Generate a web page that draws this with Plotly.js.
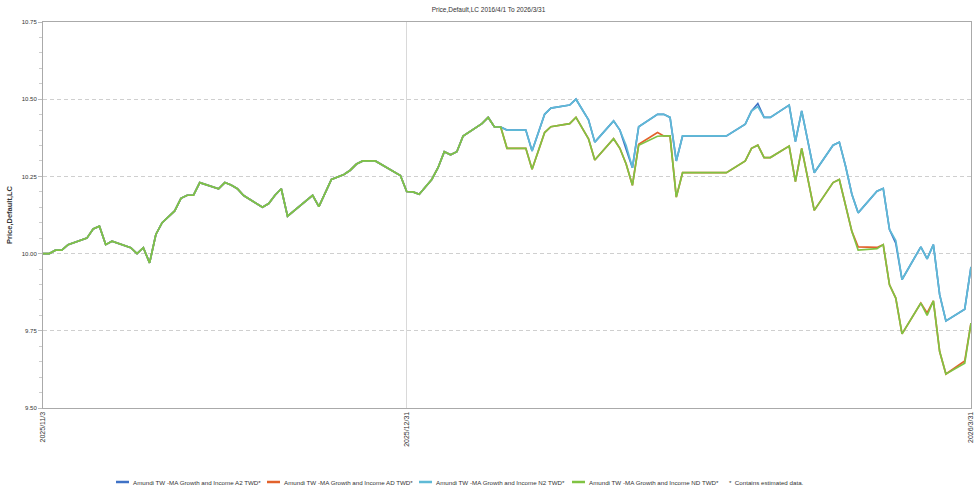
<!DOCTYPE html>
<html>
<head>
<meta charset="utf-8">
<script src="https://cdn.plot.ly/plotly-3.0.1.min.js"></script>
<style>html,body{margin:0;padding:0;background:#fff;}#chart{width:977px;height:492px;}</style>
</head>
<body>
<div id="chart"></div>
<script>
// Shared history (all four share classes move together until mid-January)
var commonDates = ["2025-11-03","2025-11-04","2025-11-05","2025-11-06","2025-11-07","2025-11-10","2025-11-11","2025-11-12","2025-11-13","2025-11-14","2025-11-17","2025-11-18","2025-11-19","2025-11-20","2025-11-21","2025-11-22","2025-11-24","2025-11-25","2025-11-26","2025-11-27","2025-11-28","2025-12-01","2025-12-02","2025-12-03","2025-12-04","2025-12-05","2025-12-08","2025-12-09","2025-12-10","2025-12-11","2025-12-12","2025-12-16","2025-12-17","2025-12-19","2025-12-21","2025-12-22","2025-12-23","2025-12-24","2025-12-26","2025-12-30","2025-12-31","2026-01-01","2026-01-02","2026-01-04","2026-01-05","2026-01-06","2026-01-07","2026-01-08","2026-01-09","2026-01-12","2026-01-13","2026-01-14","2026-01-15"];
var commonValues = [10.000,10.000,10.011,10.011,10.029,10.050,10.080,10.089,10.029,10.040,10.019,10.000,10.019,9.970,10.062,10.100,10.138,10.179,10.189,10.189,10.230,10.210,10.230,10.222,10.210,10.188,10.150,10.162,10.189,10.210,10.121,10.189,10.152,10.240,10.256,10.270,10.290,10.300,10.300,10.253,10.201,10.200,10.192,10.240,10.278,10.330,10.320,10.330,10.381,10.421,10.441,10.410,10.410];

var tailDates = ["2026-01-16","2026-01-19","2026-01-20","2026-01-22","2026-01-23","2026-01-26","2026-01-27","2026-01-29","2026-01-30","2026-02-02","2026-02-03","2026-02-04","2026-02-05","2026-02-06","2026-02-09","2026-02-10","2026-02-11","2026-02-12","2026-02-13","2026-02-16","2026-02-20","2026-02-23","2026-02-24","2026-02-25","2026-02-26","2026-02-27","2026-03-02","2026-03-03","2026-03-04","2026-03-06","2026-03-09","2026-03-10","2026-03-11","2026-03-12","2026-03-13","2026-03-16","2026-03-17","2026-03-18","2026-03-19","2026-03-20","2026-03-23","2026-03-24","2026-03-25","2026-03-26","2026-03-27","2026-03-30","2026-03-31"];

var a2Tail = [10.400,10.400,10.332,10.451,10.471,10.481,10.500,10.433,10.361,10.430,10.400,10.338,10.278,10.411,10.451,10.451,10.441,10.300,10.381,10.381,10.381,10.419,10.462,10.486,10.441,10.441,10.481,10.363,10.462,10.262,10.351,10.361,10.283,10.192,10.132,10.202,10.211,10.078,10.034,9.916,10.022,9.983,10.029,9.867,9.782,9.820,9.957];
var adTail = [10.341,10.341,10.273,10.392,10.411,10.421,10.441,10.372,10.303,10.372,10.341,10.290,10.221,10.354,10.392,10.381,10.381,10.183,10.262,10.262,10.262,10.300,10.341,10.351,10.311,10.311,10.348,10.233,10.341,10.140,10.230,10.240,10.155,10.072,10.022,10.020,10.029,9.899,9.856,9.740,9.840,9.808,9.847,9.683,9.610,9.652,9.775];
var n2Tail = [10.400,10.400,10.332,10.451,10.471,10.481,10.500,10.433,10.361,10.430,10.400,10.350,10.278,10.411,10.451,10.451,10.441,10.300,10.381,10.381,10.381,10.419,10.462,10.476,10.441,10.441,10.481,10.363,10.462,10.262,10.351,10.361,10.283,10.192,10.132,10.202,10.211,10.078,10.042,9.916,10.022,9.983,10.029,9.867,9.782,9.820,9.957];
var ndTail = [10.341,10.341,10.273,10.392,10.411,10.421,10.441,10.372,10.303,10.372,10.341,10.290,10.221,10.351,10.380,10.381,10.381,10.183,10.262,10.262,10.262,10.300,10.341,10.351,10.311,10.311,10.348,10.233,10.341,10.140,10.230,10.240,10.155,10.072,10.011,10.016,10.029,9.899,9.856,9.740,9.840,9.800,9.847,9.683,9.610,9.645,9.775];

var seriesNames = ["Amundi TW -MA Growth and Income A2 TWD*","Amundi TW -MA Growth and Income AD TWD*","Amundi TW -MA Growth and Income N2 TWD*","Amundi TW -MA Growth and Income ND TWD*"];
var seriesColors = ["#3f72c6","#e2622c","#5fbad6","#80c343"];

var yTickVals = [9.50,9.75,10.00,10.25,10.50,10.75];
var yTickText = ["9.50","9.75","10.00","10.25","10.50","10.75"];
var xTickVals = ["2025-11-03","2025-12-31","2026-03-31"];
var xTickText = ["2025/11/3","2025/12/31","2026/3/31"];

var chartTitle = "Price,Default,LC 2016/4/1 To 2026/3/31";
var yTitle = "Price,Default,LC";
var footNote = "*  Contains estimated data.";

var dates = commonDates.concat(tailDates);
var tails = [a2Tail, adTail, n2Tail, ndTail];
var FONT = "Liberation Sans, Arial, sans-serif";

var traces = tails.map(function(t, i){
  return {
    type: "scatter", mode: "lines",
    x: dates, y: commonValues.concat(t),
    name: seriesNames[i],
    line: {color: seriesColors[i], width: 1.7},
    hoverinfo: "x+y+name",
    showlegend: false
  };
});

// Legend drawn as swatch + label, laid out in pixels below the plot
var plotL = 43, plotW = 928, plotB = 408, plotH = 386;
function px2x(p){ return (p - plotL) / plotW; }
var legendY = (plotB - 482) / plotH;
var legendStarts = [116, 267, 419, 572];
var shapes = [], annotations = [];
legendStarts.forEach(function(p, i){
  shapes.push({type: "line", xref: "paper", yref: "paper",
    x0: px2x(p), x1: px2x(p + 13), y0: legendY, y1: legendY,
    line: {color: seriesColors[i], width: 2.5}});
  annotations.push({text: seriesNames[i], xref: "paper", yref: "paper",
    x: px2x(p + 15), y: legendY, xanchor: "left", yanchor: "middle", showarrow: false,
    font: {family: FONT, size: 6.2, color: "#333"}});
});
annotations.push({text: footNote, xref: "paper", yref: "paper", x: px2x(727), y: legendY,
  xanchor: "left", yanchor: "middle", showarrow: false,
  font: {family: FONT, size: 6.2, color: "#333"}});

var layout = {
  width: 977, height: 492,
  margin: {l: 43, r: 6, t: 22, b: 84},
  paper_bgcolor: "#fff", plot_bgcolor: "#fff",
  font: {family: FONT, size: 7, color: "#333"},
  title: {text: chartTitle, x: 0.5, xanchor: "center", y: 0.985, yanchor: "top", font: {family: FONT, size: 6.5, color: "#333"}},
  showlegend: false,
  xaxis: {
    type: "date", range: ["2025-11-03","2026-03-31"],
    tickmode: "array", tickvals: xTickVals, ticktext: xTickText, tickangle: -90,
    tickfont: {family: FONT, size: 7, color: "#333"},
    showgrid: true, gridcolor: "#d9d9d9", gridwidth: 1,
    showline: true, linecolor: "#aaa", linewidth: 1, mirror: true,
    ticks: "", zeroline: false, fixedrange: true
  },
  yaxis: {
    range: [9.5, 10.75],
    tickmode: "array", tickvals: yTickVals, ticktext: yTickText,
    tickfont: {family: FONT, size: 6, color: "#333"},
    ticks: "outside", ticklen: 4, tickcolor: "#bbb",
    minor: {dtick: 0.05, ticks: "outside", ticklen: 3, tickcolor: "#ccc", showgrid: false},
    showgrid: true, gridcolor: "#cfcfcf", griddash: "4px,3px", gridwidth: 1,
    showline: true, linecolor: "#aaa", linewidth: 1, mirror: true,
    zeroline: false,
    title: {text: "<b>" + yTitle + "</b>", font: {family: FONT, size: 7.5, color: "#333"}, standoff: 8},
    fixedrange: true
  },
  shapes: shapes,
  annotations: annotations
};

Plotly.newPlot("chart", traces, layout, {displayModeBar: false});
</script>
</body>
</html>
